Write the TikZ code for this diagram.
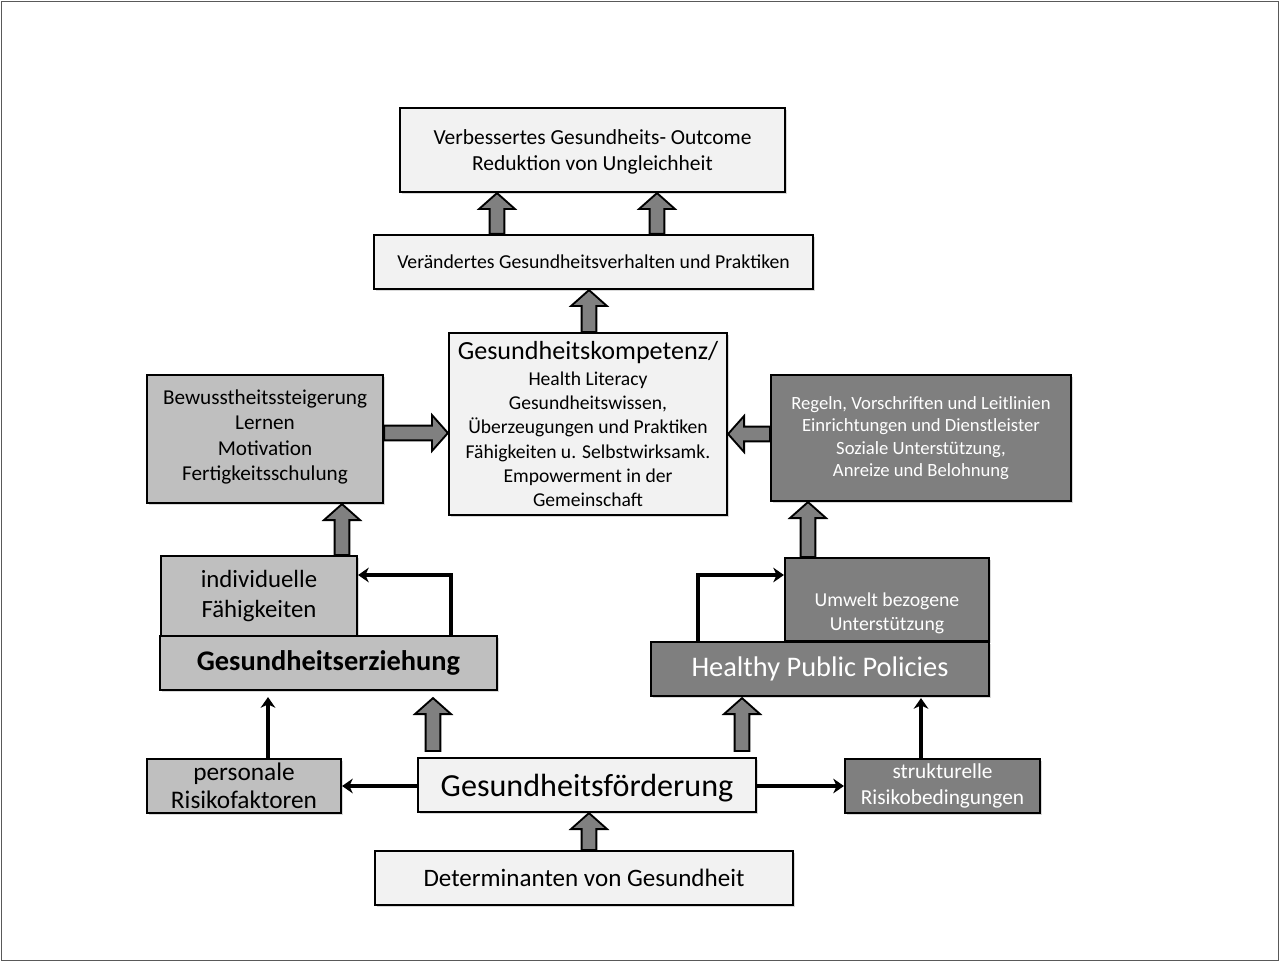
\documentclass[tikz,border=0pt]{standalone}
\usepackage{fontspec}
\setmainfont{Carlito}
\usetikzlibrary{calc,arrows.meta,shadows}
\definecolor{lightfill}{HTML}{F2F2F2}
\definecolor{midfill}{HTML}{BFBFBF}
\definecolor{darkfill}{HTML}{7F7F7F}
\definecolor{arrfill}{HTML}{808080}
\newcommand\blockarr[2]{%
  \path let \p1=(#1), \p2=(#2), \n1={atan2(\y2-\y1,\x2-\x1)}, \n2={veclen(\x2-\x1,\y2-\y1)} in
    \pgfextra{\xdef\baang{\n1}\xdef\balen{\n2}\xdef\bax{\x1}\xdef\bay{\y1}};
  \begin{scope}[shift={(\bax,\bay)}, rotate=\baang]
    \draw[blockarrow] (0pt,-5.5pt) -- ({\balen-12pt},-5.5pt) -- ({\balen-12pt},-13.5pt)
      -- ({\balen},0pt) -- ({\balen-12pt},13.5pt) -- ({\balen-12pt},5.5pt) -- (0pt,5.5pt) -- cycle;
  \end{scope}}
\newcommand\setfs[1]{\pgfmathsetmacro\fsbs{#1*1.2}\fontsize{#1}{\fsbs}\selectfont}
\newcommand\setfsb[2]{\pgfmathsetmacro\fsbs{#1*#2}\fontsize{#1}{\fsbs}\selectfont}
\tikzset{
  box/.style={draw=black, line width=1.6pt, inner sep=2pt, align=center,
    drop shadow={shadow xshift=1.5pt, shadow yshift=-1.5pt, fill=black!25, opacity=.6}},
  lightbox/.style={box, fill=lightfill, text=black},
  midbox/.style={box, fill=midfill, text=black},
  darkbox/.style={box, fill=darkfill, text=white},
  sz/.style 2 args={minimum width={#1*0.75pt}, minimum height={#2*0.75pt}},
  blockarrow/.style={draw=black, line width=1.4pt, fill=arrfill, line join=miter},
  thinarrow/.style={draw=black, line width=2.5pt, -{Stealth[length=8pt,width=11pt,inset=2.5pt]}},
  fs/.style={font=\setfs{#1}}
}
\begin{document}
\begin{tikzpicture}[x=0.75pt,y=-0.75pt]
\useasboundingbox (0,0) rectangle (1280,962);
\draw[gray!70!black, line width=1.2pt] (1.5,1.5) rectangle (1278.5,960.5);

\node[lightbox, sz={385}{84}, fs=16.1, text depth=0pt] (top) at (592.5,150)
  {Verbessertes Gesundheits- Outcome\\Reduktion von Ungleichheit};
\node[lightbox, sz={439}{54}, fs=14.8] (ver) at (593.5,262)
  {Verändertes Gesundheitsverhalten und Praktiken};
\node[lightbox, sz={278}{182}, font=\setfsb{14.7}{1.24}, text depth=0pt] (komp) at (588,424)
  {{\setfs{19.6}Gesundheitskompetenz/}\\[1pt]Health Literacy\\Gesundheitswissen,\\Überzeugungen und Praktiken\\Fähigkeiten u. Selbstwirksamk.\\Empowerment in der\\Gemeinschaft};
\node[midbox, sz={236}{128}, fs=15.9, text depth=6pt] (bew) at (265,439)
  {Bewusstheitssteigerung\\Lernen\\Motivation\\Fertigkeitsschulung};
\node[darkbox, sz={300}{126}, fs=14] (reg) at (921,438)
  {Regeln, Vorschriften und Leitlinien\\Einrichtungen und Dienstleister\\Soziale Unterstützung,\\Anreize und Belohnung};
\node[midbox, sz={196}{80}, fs=18.6] (ind) at (259,596)
  {individuelle\\Fähigkeiten};
\node[midbox, sz={337}{54}, fs=21.3] (erz) at (328.5,663)
  {\bfseries Gesundheitserziehung};
\node[darkbox, sz={204}{83},
  label={[fs=14.8, text=white, align=center, yshift=-10.5pt]center:Umwelt bezogene\\Unterstützung}] (umw) at (887,599.5) {};
\node[darkbox, sz={338}{54}, fs=21.3] (hpp) at (820,669)
  {Healthy Public Policies};
\node[midbox, sz={194}{54}, fs=19] (pers) at (244,786)
  {personale\\[-2pt]Risikofaktoren};
\node[lightbox, sz={338}{54}, fs=24.1, text height=22pt, text depth=5pt] (foe) at (587,785)
  {Gesundheitsförderung};
\node[darkbox, sz={195}{54}, fs=16] (str) at (942.5,786)
  {strukturelle\\Risikobedingungen};
\node[lightbox, sz={418}{54}, fs=18.8] (det) at (584,878)
  {Determinanten von Gesundheit};

% block arrows
\blockarr{ver.north -| 497,0}{top.south -| 497,0}
\blockarr{ver.north -| 657,0}{top.south -| 657,0}
\blockarr{komp.north -| 589,0}{ver.south -| 589,0}
\blockarr{bew.east |- 0,433}{komp.west |- 0,433}
\blockarr{reg.west |- 0,434}{komp.east |- 0,434}
\blockarr{ind.north -| 342,0}{bew.south -| 342,0}
\blockarr{umw.north -| 808,0}{reg.south -| 808,0}
\blockarr{$(foe.north -| 433,0)+(0,-6)$}{$(erz.south -| 433,0)+(0,7)$}
\blockarr{$(foe.north -| 742,0)+(0,-6)$}{$(hpp.south -| 742,0)+(0,1)$}
\blockarr{det.north -| 589,0}{foe.south -| 589,0}

% thin arrows
\draw[thinarrow] (foe.west |- 0,786) -- (pers.east |- 0,786);
\draw[thinarrow] (foe.east |- 0,786) -- (str.west |- 0,786);
\draw[thinarrow] (pers.north -| 268,0) -- ($(erz.south -| 268,0)+(0,6)$);
\draw[thinarrow] (str.north -| 921,0) -- ($(hpp.south -| 921,0)+(0,1)$);
\draw[thinarrow] (erz.north -| 451,0) |- (ind.east |- 0,575);
\draw[thinarrow] (hpp.north -| 698,0) |- (umw.west |- 0,575);
\end{tikzpicture}
\end{document}
